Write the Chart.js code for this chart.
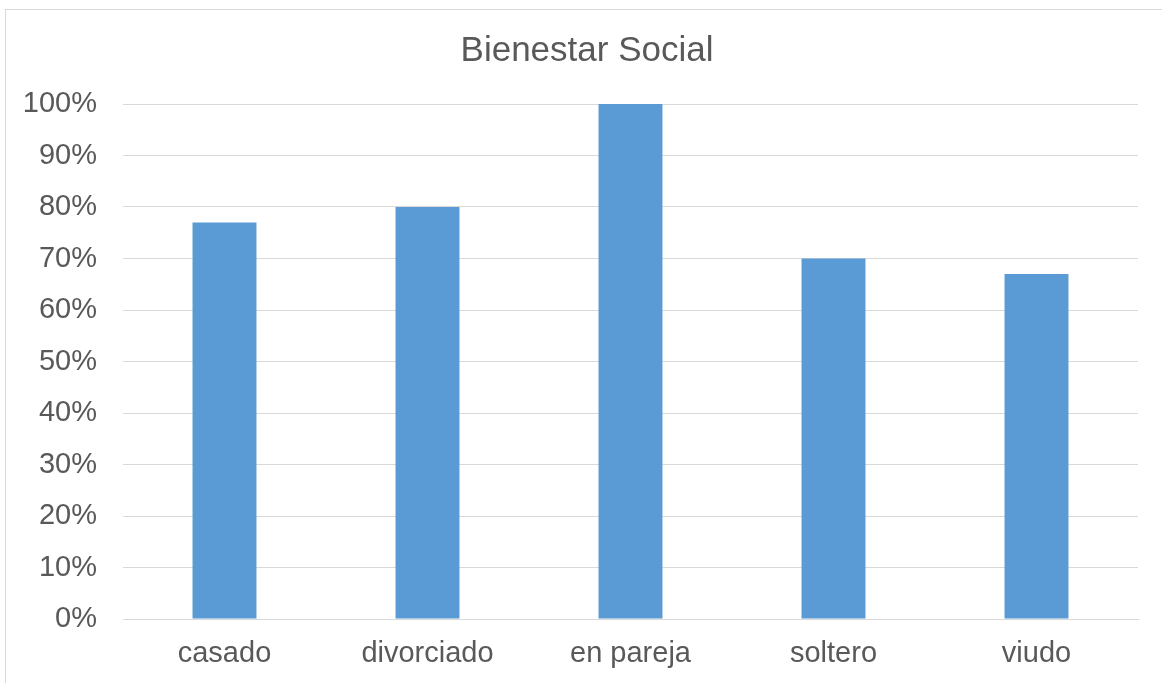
<!DOCTYPE html>
<html>
<head>
<meta charset="utf-8">
<script src="https://cdn.jsdelivr.net/npm/chart.js@4"></script>
<style>
  html, body { margin: 0; padding: 0; background: #fff; overflow: hidden; }
  #frame { position: absolute; left: 5px; top: 9px; width: 1200px; height: 720px; border: 1px solid #d9d9d9; box-sizing: border-box; }
  #wrap { position: absolute; left: 0; top: 0; width: 1162px; height: 683px; }
</style>
</head>
<body>
<div id="frame"></div>
<div id="wrap"><canvas id="c" width="1162" height="683"></canvas></div>
<script>
const chartTitle = "Bienestar Social";
const categories = ["casado", "divorciado", "en pareja", "soltero", "viudo"];
const values = [77, 80, 100, 70, 67];
const yTicks = [0, 10, 20, 30, 40, 50, 60, 70, 80, 90, 100];

const font = "'Liberation Sans', Arial, sans-serif";
const textColor = "#595959";

new Chart(document.getElementById("c"), {
  type: "bar",
  data: {
    labels: categories,
    datasets: [{
      label: chartTitle,
      data: values,
      backgroundColor: "#5b9bd5",
      borderWidth: 0,
      barPercentage: 1,
      categoryPercentage: 0.315,
      yAxisID: "y"
    }]
  },
  options: {
    responsive: false,
    animation: false,
    devicePixelRatio: 1,
    layout: { padding: { left: 12, right: 0, top: 0, bottom: 0 } },
    plugins: {
      legend: { display: false },
      tooltip: { enabled: false },
      title: {
        display: true,
        text: chartTitle,
        color: textColor,
        font: { family: font, size: 35, weight: "normal" },
        padding: { top: 30, bottom: 32 }
      }
    },
    scales: {
      x: {
        grid: { display: false, drawTicks: false },
        border: { display: true, color: "#d9d9d9", width: 1 },
        ticks: { color: textColor, font: { family: font, size: 29 }, padding: 18, maxRotation: 0 },
        afterFit: s => { s.height = 64; }
      },
      y: {
        position: "left",
        min: 0,
        max: 100,
        afterBuildTicks: s => { s.ticks = yTicks.map(v => ({ value: v })); },
        grid: { color: "#d9d9d9", lineWidth: 1, drawTicks: false },
        border: { display: false },
        ticks: {
          color: textColor,
          font: { family: font, size: 29 },
          padding: 26,
          callback: v => v + "%"
        },
        afterFit: s => { s.width = 111; }
      },
      yRight: {
        position: "right",
        display: true,
        grid: { display: false, drawTicks: false },
        border: { display: false },
        ticks: { display: false },
        afterFit: s => { s.width = 24; }
      }
    }
  }
});
</script>
</body>
</html>
